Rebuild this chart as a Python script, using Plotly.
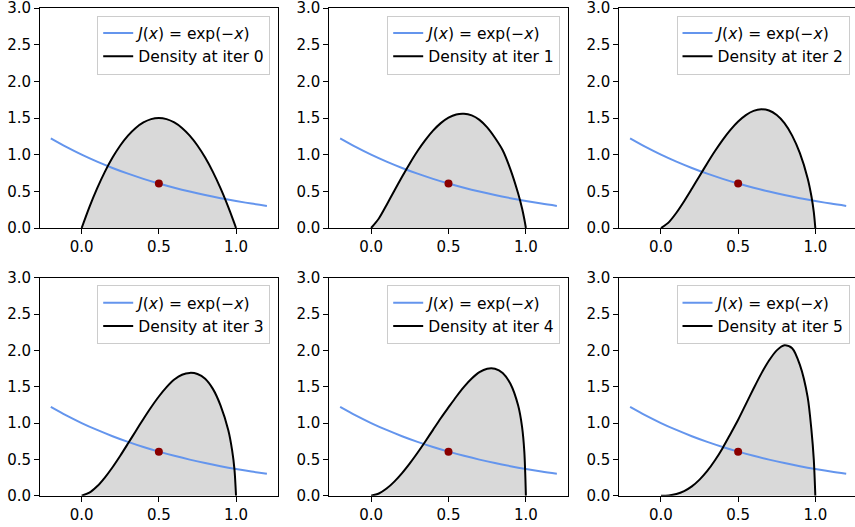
import plotly.graph_objects as go

# ---- data ----
j_x = [-0.2, -0.1, 0.0, 0.1, 0.2, 0.3, 0.4, 0.5, 0.6, 0.7, 0.8, 0.9, 1.0, 1.1, 1.2]
j_y = [1.2214, 1.1052, 1.0, 0.9048, 0.8187, 0.7408, 0.6703, 0.6065, 0.5488,
       0.4966, 0.4493, 0.4066, 0.3679, 0.3329, 0.3012]

dens_x = [0.0, 0.05, 0.1, 0.15, 0.2, 0.25, 0.3, 0.35, 0.4, 0.45, 0.5, 0.55, 0.6,
          0.65, 0.7, 0.75, 0.8, 0.85, 0.9, 0.95, 0.975, 0.99, 1.0]

dens_iter0 = [0, 0.285, 0.54, 0.765, 0.96, 1.125, 1.26, 1.365, 1.44, 1.485, 1.5, 1.485, 1.44,
              1.365, 1.26, 1.125, 0.96, 0.765, 0.54, 0.285, 0.146, 0.059, 0]
dens_iter1 = [0, 0.13, 0.315, 0.507, 0.698, 0.880, 1.049, 1.198, 1.327, 1.430, 1.505, 1.549, 1.558,
              1.535, 1.475, 1.372, 1.23, 1.06, 0.80, 0.47, 0.27, 0.12, 0]
dens_iter2 = [0, 0.077, 0.208, 0.365, 0.535, 0.710, 0.883, 1.049, 1.202, 1.338, 1.452, 1.540, 1.597,
              1.618, 1.602, 1.54, 1.43, 1.26, 1.02, 0.68, 0.43, 0.22, 0]
dens_iter3 = [0, 0.041, 0.129, 0.250, 0.392, 0.550, 0.718, 0.888, 1.056, 1.217, 1.365, 1.494, 1.598,
              1.665, 1.690, 1.675, 1.610, 1.47, 1.24, 0.90, 0.62, 0.36, 0]
dens_iter4 = [0, 0.030, 0.098, 0.194, 0.311, 0.445, 0.591, 0.746, 0.906, 1.066, 1.215, 1.362, 1.497,
              1.612, 1.700, 1.748, 1.748, 1.69, 1.54, 1.24, 0.95, 0.60, 0]
dens_iter5 = [0, 0.004, 0.023, 0.063, 0.128, 0.221, 0.340, 0.487, 0.658, 0.849, 1.045, 1.260, 1.475,
              1.680, 1.860, 2.000, 2.070, 2.030, 1.80, 1.36, 0.90, 0.50, 0]

densities = [dens_iter0, dens_iter1, dens_iter2, dens_iter3, dens_iter4, dens_iter5]
iter_labels = ["Density at iter 0", "Density at iter 1", "Density at iter 2",
               "Density at iter 3", "Density at iter 4", "Density at iter 5"]
point_x = [0.5]
point_y = [0.6065]

y_ticks = [0.0, 0.5, 1.0, 1.5, 2.0, 2.5, 3.0]
x_ticks = [0.0, 0.5, 1.0]

# ---- layout geometry (pixels -> paper) ----
W, H = 855, 527
col_px = [(40.0, 277.7), (329.3, 567.7), (619.3, 857.0)]
row_px = [(8.0, 228.0), (277.7, 495.7)]
XR = (-0.27, 1.27)

FONT = "DejaVu Sans"
fig = go.Figure()
layout = dict(width=W, height=H, margin=dict(l=0, r=0, t=0, b=0, autoexpand=False),
              paper_bgcolor="white", plot_bgcolor="white",
              font=dict(family=FONT, size=15, color="black"), showlegend=True)

for k in range(6):
    r, c = divmod(k, 3)
    idx = "" if k == 0 else str(k + 1)
    xa, ya = "x" + idx, "y" + idx
    leg = "legend" + idx
    x0p, x1p = col_px[c]
    y0p, y1p = row_px[r]
    xr = list(XR)
    if x1p > W:
        xr[1] = XR[0] + (XR[1] - XR[0]) * (W - x0p) / (x1p - x0p)
        x1p = W
    axis_common = dict(showgrid=False, zeroline=False, showline=True, mirror=True,
                       linecolor="black", linewidth=1, ticks="outside", ticklen=5,
                       tickwidth=1, tickcolor="black", automargin=False,
                       ticklabeloverflow="allow", tickformat=".1f",
                       tickfont=dict(family=FONT, size=15, color="black"))
    layout["xaxis" + idx] = dict(domain=[x0p / W, x1p / W], range=xr, anchor=ya,
                                 tickvals=x_ticks, **axis_common)
    layout["yaxis" + idx] = dict(domain=[1 - y1p / H, 1 - y0p / H], range=[0, 3], anchor=xa,
                                 tickvals=y_ticks, **axis_common)
    legend_right = col_px[c][1] - 7.5
    layout[leg] = dict(x=legend_right / W, xanchor="right", y=1 - (y0p + 7.5) / H, yanchor="top",
                       bgcolor="rgba(255,255,255,0.85)", bordercolor="#cccccc",
                       borderwidth=1, font=dict(family=FONT, size=15.5, color="black"),
                       traceorder="normal", itemwidth=30)

    dens = densities[k]
    # gray fill
    fig.add_trace(go.Scatter(x=dens_x, y=dens, mode="lines", fill="tozeroy",
                             fillcolor="#d9d9d9", line=dict(width=0, shape="spline", smoothing=0.8),
                             showlegend=False, hoverinfo="skip", xaxis=xa, yaxis=ya))
    # J(x)
    fig.add_trace(go.Scatter(x=j_x, y=j_y, mode="lines",
                             line=dict(color="#6495ED", width=2, shape="spline"),
                             name="<i>J</i>(<i>x</i>) = exp(\u2212<i>x</i>)",
                             legend=leg, xaxis=xa, yaxis=ya))
    # density line
    fig.add_trace(go.Scatter(x=dens_x, y=dens, mode="lines",
                             line=dict(color="black", width=2, shape="spline", smoothing=0.8),
                             name=iter_labels[k], legend=leg, xaxis=xa, yaxis=ya))
    # red point
    fig.add_trace(go.Scatter(x=point_x, y=point_y, mode="markers",
                             marker=dict(color="#8b0000", size=8),
                             showlegend=False, xaxis=xa, yaxis=ya))

fig.update_layout(**layout)
fig.write_html("out.html", config={"displayModeBar": False},
               post_script="document.body.style.margin='0';document.body.style.overflow='hidden';")
